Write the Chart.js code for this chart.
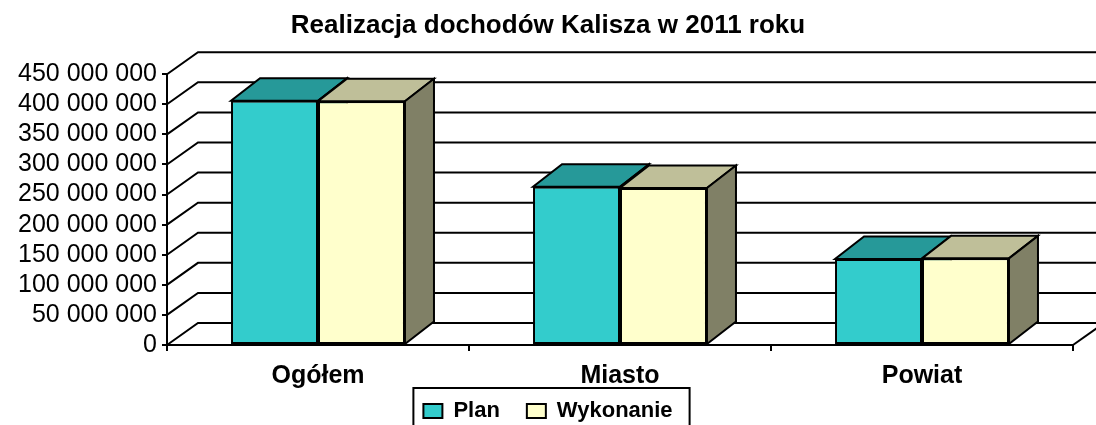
<!DOCTYPE html>
<html>
<head>
<meta charset="utf-8">
<script src="https://cdn.jsdelivr.net/npm/chart.js@4/dist/chart.umd.min.js"></script>
<style>
  html, body { margin: 0; padding: 0; background: #fff; }
  #wrap { width: 1096px; height: 425px; }
</style>
</head>
<body>
<div id="wrap"><canvas id="chart-dochody"></canvas></div>
<script>
const categories = ["Ogółem", "Miasto", "Powiat"]
const planValues = [406000000, 263000000, 143000000]
const wykonanieValues = [405000000, 261000000, 144000000]
const seriesNames = ["Plan", "Wykonanie"]
const titleText = "Realizacja dochodów Kalisza w 2011 roku"

const FONT = "'Liberation Sans', Arial, sans-serif"
const WALL_DX = 31, WALL_DY = -22
const BAR_DX = 29, BAR_DY = -22.5
const LEGEND_SHIFT = -19
const topColors = ["#269999", "#BFBF99"]
const sideColors = ["#1A7373", "#808066"]

const fmt = v => String(v).replace(/\B(?=(\d{3})+(?!\d))/g, " ")

// pseudo 3D: back wall, floor edge, bar tops and sides
const depth3d = {
  id: "depth3d",
  afterLayout(chart) {
    // legend sits a bit higher than the layout puts it, keep it unclipped
    const lg = chart.legend
    lg.top += LEGEND_SHIFT
    lg.bottom = chart.height
    lg.height = lg.bottom - lg.top
  },
  beforeDatasetsDraw(chart) {
    const { ctx, chartArea: a, scales: { y } } = chart
    ctx.save()
    ctx.strokeStyle = "#000"
    ctx.lineWidth = 2
    y.ticks.forEach(t => {
      const py = y.getPixelForValue(t.value)
      ctx.beginPath()
      ctx.moveTo(a.left, py)
      ctx.lineTo(a.left + WALL_DX, py + WALL_DY)
      ctx.lineTo(chart.width + 20, py + WALL_DY)
      ctx.stroke()
    })
    ctx.beginPath()
    ctx.moveTo(a.right, a.bottom)
    ctx.lineTo(a.right + WALL_DX, a.bottom + WALL_DY)
    ctx.stroke()

    const face = (pts, color) => {
      ctx.beginPath()
      pts.forEach((p, k) => k ? ctx.lineTo(p[0], p[1]) : ctx.moveTo(p[0], p[1]))
      ctx.closePath()
      ctx.fillStyle = color
      ctx.fill()
      ctx.stroke()
    }
    chart.data.datasets.forEach((ds, i) => {
      chart.getDatasetMeta(i).data.forEach(bar => {
        const { x, y: top, base, width } = bar.getProps(["x", "y", "base", "width"], true)
        const l = x - width / 2, r = x + width / 2
        face([[l, top], [r, top], [r + BAR_DX, top + BAR_DY], [l + BAR_DX, top + BAR_DY]], topColors[i])
        face([[r, top], [r + BAR_DX, top + BAR_DY], [r + BAR_DX, base + BAR_DY], [r, base]], sideColors[i])
      })
    })
    ctx.restore()
  },
  afterDraw(chart) {
    const hb = chart.legend.legendHitBoxes
    if (!hb || !hb.length) return
    const last = hb[hb.length - 1]
    const mid = hb[0].top + hb[0].height / 2
    const l = hb[0].left - 10
    const r = last.left + last.width + 17
    const { ctx } = chart
    ctx.save()
    ctx.strokeStyle = "#000"
    ctx.lineWidth = 2
    ctx.strokeRect(l, mid - 23, r - l, 60)
    ctx.restore()
  }
}

new Chart(document.getElementById("chart-dochody"), {
  type: "bar",
  data: {
    labels: categories,
    datasets: [{
      label: seriesNames[0],
      data: planValues,
      backgroundColor: "#33CCCC",
      borderColor: "#000",
      borderWidth: 2,
      borderSkipped: false
    }, {
      label: seriesNames[1],
      data: wykonanieValues,
      backgroundColor: "#FFFFCC",
      borderColor: "#000",
      borderWidth: 2,
      borderSkipped: false
    }]
  },
  options: {
    responsive: true,
    maintainAspectRatio: false,
    animation: false,
    categoryPercentage: 0.576,
    barPercentage: 1,
    layout: { padding: 0 },
    plugins: {
      title: {
        display: true,
        text: titleText,
        color: "#000",
        font: { family: FONT, size: 26, weight: "bold" },
        padding: { top: 10, bottom: 33 }
      },
      legend: {
        position: "bottom",
        maxHeight: 33,
        labels: {
          color: "#000",
          font: { family: FONT, size: 22, weight: "bold" },
          boxWidth: 19,
          boxHeight: 14,
          padding: 27
        }
      },
      tooltip: { enabled: false }
    },
    scales: {
      x: {
        grid: { drawOnChartArea: false, drawTicks: true, tickLength: 6, color: "#000", lineWidth: 2 },
        border: { display: true, color: "#000", width: 2 },
        ticks: {
          color: "#000",
          maxRotation: 0,
          padding: 10,
          font: { family: FONT, size: 25, weight: "bold" }
        },
        afterFit: s => { s.height = 47 }
      },
      y: {
        min: 0,
        max: 450000000,
        grid: { drawOnChartArea: false, drawTicks: true, tickLength: 5, color: "#000", lineWidth: 2 },
        border: { display: true, color: "#000", width: 2 },
        ticks: {
          stepSize: 50000000,
          autoSkip: false,
          color: "#000",
          padding: 5,
          font: { family: FONT, size: 25 },
          callback: v => fmt(v)
        },
        afterFit: s => { s.width = 167 }
      },
      spacer: {
        position: "right",
        grid: { display: false },
        border: { display: false },
        ticks: { display: false },
        afterFit: s => { s.width = 23 }
      }
    }
  },
  plugins: [depth3d]
})
</script>
</body>
</html>
